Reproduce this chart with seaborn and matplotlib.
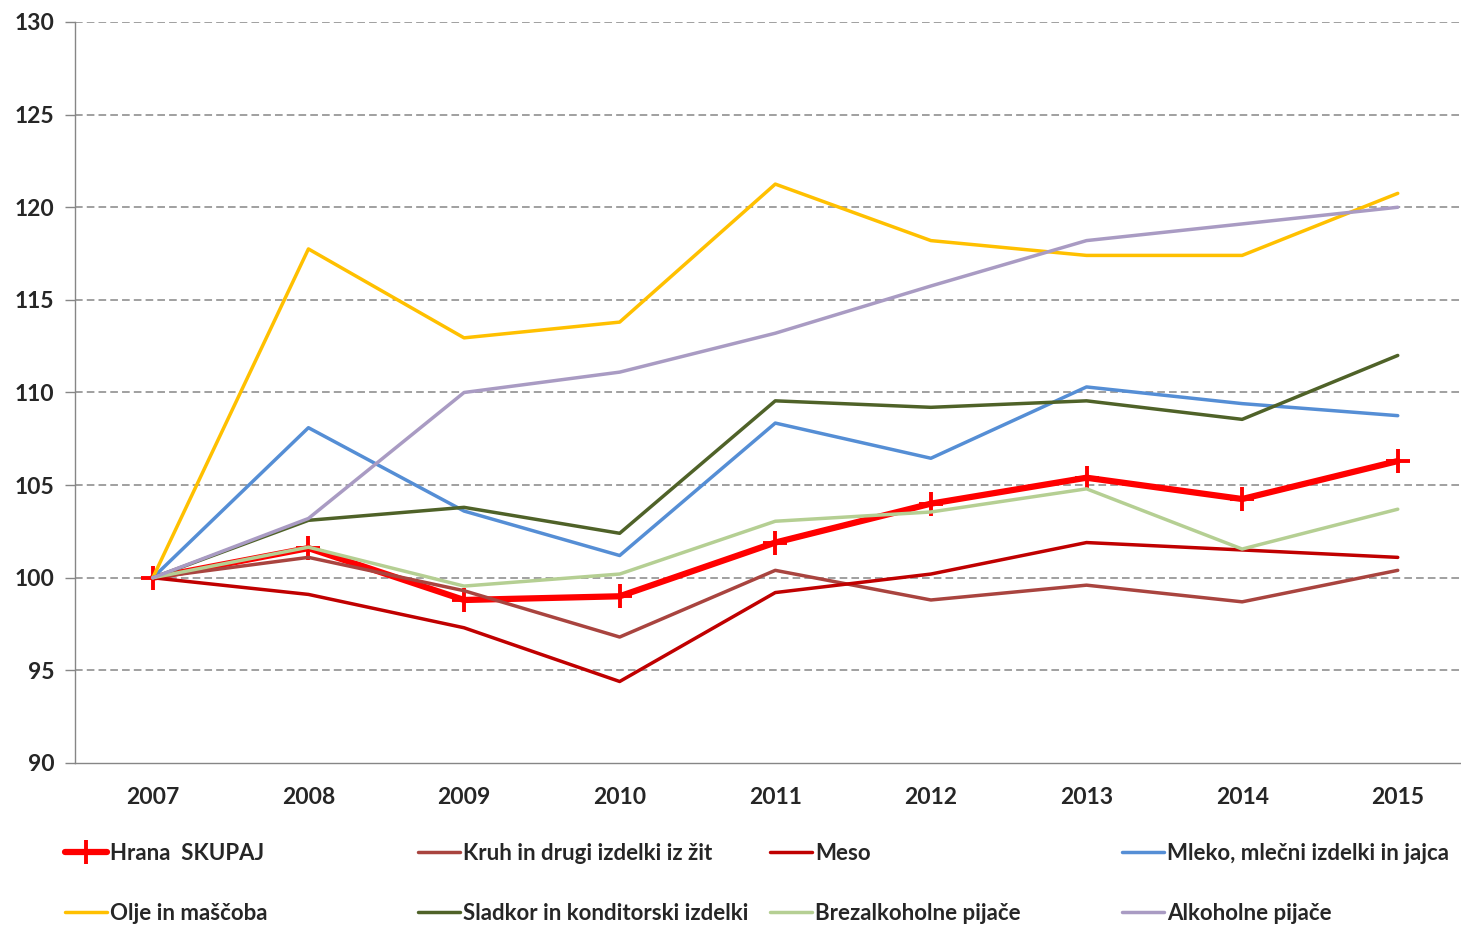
import numpy as np
import pandas as pd
import matplotlib
matplotlib.use("Agg")
import matplotlib.pyplot as plt
import seaborn as sns

years = ["2007", "2008", "2009", "2010", "2011", "2012", "2013", "2014", "2015"]

hrana = [100, 101.6, 98.8, 99.0, 101.9, 104.0, 105.4, 104.25, 106.3]
kruh = [100, 101.1, 99.3, 96.8, 100.4, 98.8, 99.6, 98.7, 100.4]
meso = [100, 99.1, 97.3, 94.4, 99.2, 100.2, 101.9, 101.5, 101.1]
mleko = [100, 108.1, 103.6, 101.2, 108.35, 106.45, 110.3, 109.4, 108.75]
olje = [100, 117.75, 112.95, 113.8, 121.25, 118.2, 117.4, 117.4, 120.75]
sladkor = [100, 103.1, 103.8, 102.4, 109.55, 109.2, 109.55, 108.55, 112.0]
brezalk = [100, 101.65, 99.55, 100.2, 103.05, 103.55, 104.8, 101.55, 103.7]
alkohol = [100, 103.2, 110.0, 111.1, 113.2, 115.75, 118.2, 119.1, 120.0]

names = ["Hrana  SKUPAJ", "Kruh in drugi izdelki iz žit", "Meso",
         "Mleko, mlečni izdelki in jajca", "Olje in maščoba",
         "Sladkor in konditorski izdelki", "Brezalkoholne pijače",
         "Alkoholne pijače"]
series = [hrana, kruh, meso, mleko, olje, sladkor, brezalk, alkohol]
colors = ["#FF0000", "#A9443F", "#C00000", "#558ED5", "#FFC000",
          "#4F6228", "#B5CF93", "#A99BC3"]

sns.set_style("white")
plt.rcParams['font.family'] = ['Lato', 'DejaVu Sans']
plt.rcParams['font.weight'] = 'bold'

fig = plt.figure(figsize=(14.61, 9.26), dpi=100)
ax = fig.add_axes([75 / 1461, 1 - 763 / 926, 1385 / 1461, 741 / 926])

grid_col = "#868686"
for yv in range(95, 131, 5):
    ax.axhline(yv, color=grid_col, lw=1.1, dashes=(5, 2.7), zorder=0)

xpos = np.arange(len(years))
for i, (name, vals, col) in enumerate(zip(names, series, colors)):
    df = pd.DataFrame({"x": xpos, "y": vals})
    if i == 0:
        sns.lineplot(data=df, x="x", y="y", ax=ax, color=col, lw=4.5,
                     marker="+", markersize=17, markeredgewidth=2.8,
                     markeredgecolor=col, label=name, zorder=3)
    else:
        sns.lineplot(data=df, x="x", y="y", ax=ax, color=col, lw=2.5,
                     label=name, zorder=3 + i)

ax.set_xlim(-0.5, 8.4)
ax.set_ylim(90, 130)
ax.set_yticks(range(90, 131, 5))
ax.set_xticks(xpos)
ax.set_xticklabels(years)
ax.set_xticks(np.arange(-0.5, 8, 1), minor=True)
ax.set_xlabel("")
ax.set_ylabel("")

for s in ["top", "right"]:
    ax.spines[s].set_visible(False)
for s in ["left", "bottom"]:
    ax.spines[s].set_color(grid_col)
    ax.spines[s].set_linewidth(1.0)

ax.tick_params(axis="x", which="major", length=0, pad=17, labelsize=16.5)
ax.tick_params(axis="x", which="minor", length=7, color=grid_col, width=1)
ax.tick_params(axis="y", length=7, color=grid_col, width=1, pad=8, labelsize=16.5, left=True)
for lab in ax.get_xticklabels() + ax.get_yticklabels():
    lab.set_fontweight("bold")

handles, labels = ax.get_legend_handles_labels()
ax.get_legend().remove()
xs = [65, 418, 770, 1122]
ys = [853, 913]
for k, (h, l) in enumerate(zip(handles, labels)):
    r, c = divmod(k, 4)
    fig.legend([h], [l], loc="center left",
               bbox_to_anchor=(xs[c] / 1461, 1 - ys[r] / 926),
               frameon=False, borderpad=0, borderaxespad=0,
               handlelength=1.9, handletextpad=0.12,
               prop={"size": 16, "weight": "bold"})

fig.savefig("out.png", dpi=100)
